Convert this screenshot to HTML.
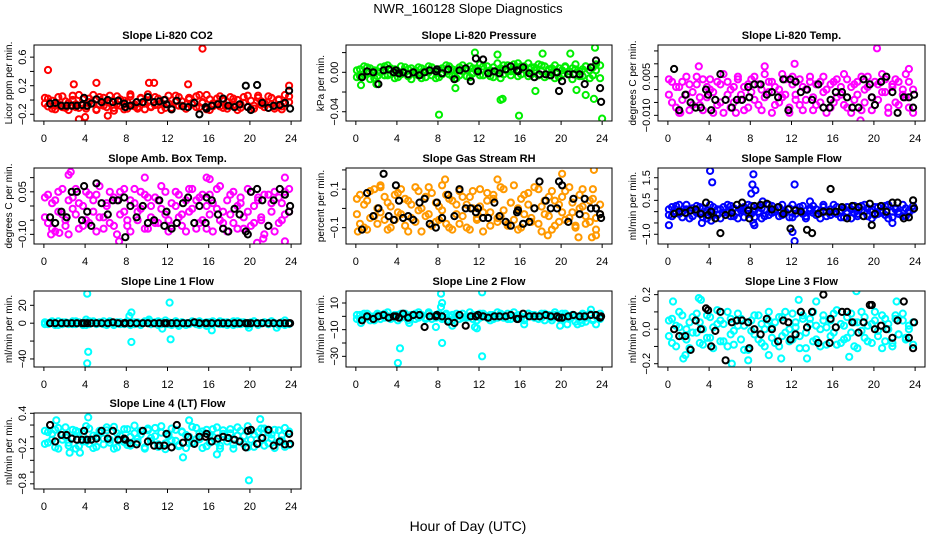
<!DOCTYPE html>
<html><head><meta charset="utf-8"><style>
html,body{margin:0;padding:0;background:#fff;}
svg{display:block;font-family:"Liberation Sans",Helvetica,Arial,sans-serif;}
</style></head><body>
<svg id="chart" width="936" height="540" viewBox="0 0 936 540" xmlns="http://www.w3.org/2000/svg">
<rect width="936" height="540" fill="#fff"/>
<text x="468" y="13" text-anchor="middle" font-size="13">NWR_160128  Slope Diagnostics</text>
<text x="468" y="531" text-anchor="middle" font-size="14">Hour of Day (UTC)</text>
<g id="panels"></g>
</svg>
<script>
// ---- shared hour samples ----
const hrs = [0.1,0.4,0.8,1.1,1.4,1.8,2.1,2.4,2.8,3.1,3.4,3.8,4.1,4.4,4.8,5.1,5.4,5.8,6.1,6.4,6.8,7.1,7.4,7.8,8.1,8.4,8.8,9.1,9.4,9.8,10.1,10.4,10.8,11.1,11.4,11.8,12.1,12.4,12.8,13.1,13.4,13.8,14.1,14.4,14.8,15.1,15.4,15.8,16.1,16.4,16.8,17.1,17.4,17.8,18.1,18.4,18.8,19.1,19.4,19.8,20.1,20.4,20.8,21.1,21.4,21.8,22.1,22.4,22.8,23.1,23.4,23.8];
const blackHrs = [0.6,1.1,1.7,2.2,2.7,3.2,3.7,3.9,4.2,4.6,5.1,5.6,6.2,6.7,7.2,7.8,7.9,8.4,9.0,9.6,10.1,10.7,11.2,11.7,11.9,12.4,12.9,13.5,14.0,14.6,15.1,15.7,15.8,16.3,16.9,17.4,17.9,18.5,19.0,19.6,19.8,20.1,20.7,21.2,21.8,22.3,22.9,23.4,23.8,23.9];
const xTicks = [0,4,8,12,16,20,24];

// ---- CO2 ----
const co2A = [-.05,.02,-.12,-.08,.04,-.1,-.02,-.14,.06,-.06,-.11,.01,-.09,-.03,.07,-.13,-.07,.03,-.1,-.04,-.15,.05,-.08,-.01,-.12,.08,-.06,-.1,.02,-.13,-.03,-.09,.04,-.07,-.14,.0,-.05,-.11,.06,-.08,-.02,-.12,.03,-.06,-.1,.07,-.04,-.13,.01,-.09,-.05,.05,-.11,-.03,-.08,.02,-.14,-.06,.04,-.1,-.01,-.12,.06,-.07,-.04,-.11,.03,-.09,.0,-.13,-.05,.05];
const co2B = [.03,-.09,-.01,-.13,-.06,.05,-.11,-.04,.0,-.1,.07,-.07,-.12,.02,-.05,-.14,.04,-.08,-.02,.06,-.11,-.06,.01,-.13,-.03,.05,-.09,-.12,.03,-.05,.08,-.1,-.07,.02,-.04,-.11,.06,-.13,-.02,.04,-.08,-.12,.01,-.06,.05,-.1,-.03,.07,-.14,-.05,.02,-.09,-.01,-.12,.04,-.07,.0,-.11,-.04,.06,-.13,-.08,.03,-.02,-.1,.05,-.06,-.12,.01,-.09,.07,-.03];
const co2Black = [-.05,-.04,-.08,-.08,-.08,-.08,-.07,.03,-.08,-.05,.01,-.03,.0,-.03,-.01,-.05,-.1,-.08,-.03,-.03,.04,-.03,-.02,.0,-.06,-.13,-.01,-.09,-.1,-.04,-.2,-.1,-.12,-.08,-.06,.02,-.08,-.1,-.06,.2,-.1,-.14,.21,-.04,-.11,-.08,-.07,-.04,.13,-.12];
const co2OutHrs = [0.4,15.4,3.4,2.9,14.0,10.2,10.7,5.1,4.0,23.8,6.2];
const co2OutVals = [.42,.72,-.27,.22,.22,.24,.24,.24,-.24,.2,-.22];

// ---- Pressure ----
const presA = [.002,-.004,.006,-.001,.004,-.006,.001,.005,-.003,.007,-.002,.003,-.005,.006,.0,-.004,.004,-.002,.005,-.006,.002,.006,-.003,.001,-.005,.004,.007,-.002,.003,-.006,.005,.001,-.004,.006,-.001,.004,.008,-.003,.006,.002,-.005,.009,.004,-.002,.007,.001,.008,-.004,.006,.003,.009,-.002,.005,.008,.001,.006,-.003,.004,.007,-.005,.002,.006,-.002,.004,.008,-.004,.003,.006,-.006,.005,.002,.007];
const presB = [-.005,.003,-.002,.005,-.007,.002,-.004,.0,.006,-.003,.004,-.006,.001,-.002,.005,.003,-.007,.002,-.003,.004,-.005,.0,.005,-.006,.003,-.002,.001,.006,-.004,.002,-.003,.007,.002,-.005,.004,.0,-.003,.006,.001,-.004,.005,.002,-.006,.007,.001,-.003,.003,.009,-.002,.006,-.004,.005,.002,-.003,.007,-.005,.003,.0,-.006,.004,-.002,.005,.001,-.007,.003,.001,-.004,.006,.002,-.003,.008,-.006];
const presBlack = [-.005,.001,.0,-.012,.002,.003,.0,.002,-.001,.0,-.002,.0,-.003,.0,.002,.001,.003,-.001,.003,-.007,.002,.004,-.009,.014,.001,.013,-.001,.001,-.001,.003,.006,.002,.001,.005,-.001,-.005,-.002,-.002,-.003,.0,-.019,-.009,-.002,-.002,-.002,-.012,.005,.012,-.016,-.03];
const presOutHrs = [8.1,15.9,24.0,11.6,13.8,18.2,20.9,23.3,14.1,14.3,23.2,17.5,22.4,0.5,2.0,9.7,21.5];
const presOutVals = [-.043,-.044,-.047,.02,.018,.019,.019,.025,-.028,-.027,-.027,-.019,-.023,-.013,-.012,-.016,-.018];

// ---- Li-820 Temp ----
const tempA = [-.002,.003,-.007,.001,-.004,.005,-.008,-.001,.002,-.006,.004,-.003,.0,-.009,.003,-.005,.006,-.002,-.007,.001,.004,-.004,-.008,.002,-.001,.005,-.006,.0,-.003,.003,-.009,.001,-.005,.006,-.002,-.007,.002,-.004,.004,-.008,.0,.005,-.003,-.006,.003,-.001,-.009,.002,-.005,.004,-.002,.006,-.007,.001,-.004,.003,-.008,.0,.005,-.003,-.006,.002,-.001,.004,-.009,.001,-.005,.003,-.002,.006,-.007,.0];
const tempB = [.004,-.005,.001,-.009,.003,-.002,.002,-.006,.005,-.003,-.008,.001,.004,-.001,-.006,.002,-.009,.003,.0,-.005,.005,-.002,.001,-.007,.004,-.004,.002,-.008,.006,-.001,.003,-.006,.0,-.003,.004,-.009,.005,-.002,-.006,.001,-.004,.003,-.008,.002,-.005,.005,.0,-.007,.003,-.003,.001,-.006,.004,-.009,.002,-.002,.005,-.005,.001,-.008,.003,-.004,.006,-.001,-.007,.002,.004,-.006,.0,-.003,.003,-.009];
const tempBlack = [.008,-.008,-.002,-.005,-.007,-.007,.0,-.002,-.008,-.004,.006,-.004,-.007,-.004,-.004,.001,-.003,.002,.002,-.002,-.001,-.003,.004,-.008,.004,.003,-.001,.0,-.004,.002,-.007,-.007,-.004,-.001,-.001,-.003,-.007,-.007,.004,.002,-.003,-.006,.003,.005,-.001,-.009,-.003,-.003,-.007,-.002];
const tempOutHrs = [20.3,18.7,12.3,3.0,9.4,6.6,1.2,23.4];
const tempOutVals = [.016,-.012,.01,.009,.009,-.009,-.009,.008];

// ---- Amb Box Temp ----
const boxA = [.03,-.06,.01,-.09,.05,-.03,-.07,.02,-.01,.06,-.08,.0,-.05,.04,-.02,-.09,.07,-.04,.01,-.06,.03,-.1,.05,-.02,-.07,.02,.06,-.05,-.01,.04,-.08,.0,.03,-.06,.07,-.03,-.09,.01,.05,-.04,-.07,.02,-.02,.06,-.08,.03,-.05,.0,.04,-.09,-.01,.07,-.06,.02,-.03,.05,-.08,.01,-.04,.06,-.07,.0,.03,-.05,-.1,.04,-.02,.05,-.06,.01,-.03,.06];
const boxB = [-.04,.04,-.08,.02,-.02,.06,-.05,-.1,.03,-.03,.01,-.07,.05,-.06,.02,.04,-.04,-.08,.0,.05,-.07,.02,-.03,.06,-.05,-.09,.01,-.02,.05,-.08,.03,-.04,-.06,.02,-.01,.05,-.05,-.07,.0,.04,-.03,-.09,.06,-.01,.02,-.06,.04,-.08,-.03,.01,.06,-.05,-.02,-.09,.04,-.06,.0,.03,-.08,-.02,.05,-.06,.02,-.04,.04,-.07,.01,-.09,.03,-.05,.05,-.02];
const boxBlack = [-.04,-.06,-.02,-.04,.05,.05,-.05,.07,-.02,-.07,.08,.01,-.03,.02,.02,.03,-.11,.0,-.04,.0,-.06,-.05,.02,-.07,-.02,-.08,-.06,.01,.03,-.06,.0,-.06,.03,.02,-.03,-.08,-.09,-.01,-.03,-.09,-.1,.05,.06,.02,-.07,.02,.06,.04,-.02,.0];
const boxOutHrs = [2.6,2.4,7.3,20.7,23.4,21.3,15.8,23.4,0.7,1.5,9.8,16.1];
const boxOutVals = [.12,.11,-.125,-.13,-.125,-.115,.1,.1,-.1,-.095,.1,.095];

// ---- Gas Stream RH ----
const rhA = [.05,-.08,.02,-.11,.09,-.04,.0,.12,-.06,.03,-.1,.07,-.02,.1,-.09,.04,-.05,.11,-.01,-.12,.06,-.03,.08,-.07,.01,.12,-.08,.05,-.11,.02,.09,-.04,-.1,.06,.0,-.06,.1,-.02,.04,-.09,.07,-.05,.11,-.01,-.08,.03,.12,-.11,.05,-.03,.08,-.07,.0,.1,-.12,.04,-.04,.09,-.09,.02,.06,-.06,.11,-.02,-.1,.07,.01,-.08,.04,.1,-.05,-.03];
const rhB = [-.03,.07,-.1,.04,-.05,.1,-.08,-.02,.06,-.11,.01,-.06,.08,-.03,.05,-.12,.02,-.07,.09,.0,-.04,.11,-.09,.03,-.06,-.01,.07,-.1,.04,-.03,-.08,.06,.02,-.11,.09,-.05,.01,-.12,.08,-.02,.05,-.07,-.04,.1,-.09,.03,-.06,.0,-.1,.07,.02,-.05,.11,-.08,.01,-.03,.06,-.11,.04,-.07,-.02,.09,-.05,.03,-.09,.0,.1,-.04,-.07,.05,-.11,.02];
const rhBlack = [-.11,.08,-.04,.0,.18,-.04,-.06,.12,.04,-.05,-.04,-.06,.03,.05,-.08,-.1,.03,-.05,.07,-.04,.1,.0,.0,-.02,.0,-.05,-.05,.03,-.04,-.07,-.09,-.02,-.01,-.08,-.07,.0,.14,.04,.0,.0,.14,.12,-.07,.05,-.03,.05,.0,.0,-.03,-.05];
const rhOutHrs = [23.2,20.1,23.4,21.7,23.0,0.2,8.7,13.8,2.4,18.7];
const rhOutVals = [.2,.18,-.14,-.15,-.15,-.12,.15,.15,.11,-.14];

// ---- Sample Flow ----
const flowA = [.1,-.2,.25,-.1,.0,.3,-.3,.15,-.05,.2,-.25,.05,.3,-.15,.1,-.3,.2,-.05,.25,-.2,.0,.15,-.25,.3,-.1,.05,.2,-.3,.1,-.15,.25,.0,-.2,.3,-.05,.15,-.25,.1,.2,-.1,-.3,.05,.25,-.15,.0,.3,-.2,.1,-.05,.2,-.25,.15,.0,-.3,.25,-.1,.05,.3,-.2,.1,-.15,.2,-.05,.25,-.3,.0,.15,-.1,.3,-.2,.05,.1];
const flowB = [-.15,.2,-.05,.3,-.25,.1,.05,-.2,.25,-.1,.15,-.3,.0,.2,-.15,.1,-.05,.3,-.2,.15,-.3,.05,.2,-.1,.25,-.25,.0,.15,-.2,.3,-.05,.1,.2,-.15,.0,-.25,.3,-.1,.05,.25,-.2,.15,-.05,.1,-.3,.2,.0,-.15,.3,-.1,.05,-.25,.2,.1,-.05,-.2,.25,.0,.15,-.3,.2,-.1,.05,-.15,.3,-.25,.1,.0,-.2,.15,-.05,.25];
const flowBlack = [-.1,.0,-.05,.05,.1,-.1,.4,-.15,.0,-.3,-.95,-.15,-.05,.3,.4,.05,-.3,.25,.3,.35,.1,.2,-.1,.1,-.75,.05,.0,-.8,-.95,-.1,.0,.0,1.0,.0,.2,-.3,.25,.2,-.2,.35,-.6,-.1,.25,.0,.4,.4,-.3,-.25,.5,.15];
const flowOutHrs = [4.1,4.3,8.3,8.2,8.1,8.5,12.3,12.3,12.1,8.4,8.3,0.1,3.3,21.8,4.2,9.2,13.8];
const flowOutVals = [1.8,1.3,1.65,1.2,.8,.95,1.2,-1.3,-.9,-.6,-.5,-.6,-.5,-.5,-.4,.45,.45];

// ---- Line 1 Flow ----
const l1A = [1,-1,2,0,-2,1,0,-1,2,-1,1,0,-2,2,1,-1,0,2,-1,1,-2,0,1,-1,2,0,-1,1,-2,2,0,-1,1,2,-1,0,1,-2,2,-3,1,0,-1,2,1,-2,0,1,-1,2,0,-1,1,-2,0,2,-1,1,0,-2,1,2,-1,0,1,-1,2,0,-2,1,3,-1];
const l1B = [-1,0,1,-2,2,-1,1,0,-1,2,0,-2,1,-1,2,0,1,-1,-2,2,0,1,-1,0,2,-2,1,0,-1,1,2,-1,0,-2,1,3,-1,0,2,-1,1,-2,0,1,-1,2,0,-3,1,-1,0,2,-1,1,0,-2,2,-1,1,0,-1,2,-2,0,1,-1,2,0,-1,1,-2,0];
const l1Black = [0,0,0,0,0,0,0,0,0,0,0,0,0,1,0,0,0,0,0,0,0,0,0,0,0,0,0,0,0,1,0,0,0,0,0,0,0,0,0,0,0,0,0,0,0,0,0,0,0,0];
const l1OutHrs = [4.2,4.3,4.2,8.5,8.3,8.5,12.2,12.3,16.3,19.9,11.5,10.2,4.1,22.6];
const l1OutVals = [33,-32,-45,-21,8,12,23,-18,-8,-5,-6,4,4,-5];

// ---- Line 2 Flow ----
const l2A = [1,-2,2,-1,0,-3,2,1,-1,3,-2,0,1,-1,2,-3,0,2,-1,1,-2,3,0,-1,2,-2,1,0,-3,2,1,-1,0,3,-2,1,-1,2,0,-3,1,-1,2,0,-2,1,3,-1,0,-2,2,1,-1,0,2,-3,1,-1,3,0,-2,2,-1,1,0,-3,2,-1,1,-2,0,2];
const l2B = [-2,1,-1,2,-3,0,1,-2,2,0,-1,1,-3,2,0,-1,1,-2,3,0,-1,2,-2,1,0,-1,2,-3,1,0,-2,2,-1,0,1,-3,2,0,-1,1,-2,3,0,-1,2,-2,0,1,-1,-3,2,0,1,-2,-1,2,0,-3,1,-1,2,0,-2,1,-4,0,1,-4,2,-3,1,-2];
const l2Black = [-3,0,-2,0,1,-1,0,0,-1,2,-1,1,1,-8,0,0,1,0,-4,-5,1,-7,0,0,1,0,-1,0,0,0,1,-2,-2,2,0,0,0,1,0,0,-1,-1,0,1,0,0,1,1,-1,0];
const l2OutHrs = [8.3,8.4,8.3,12.3,4.3,4.1,8.4,12.3,7.8,11.8,11.6,9.4,5.2,16.4,19.9,20.6,21.6,22.0,23.4,22.9,0.5];
const l2OutVals = [17,10,7,18,-24,-35,-20,-30,-8,-9,-8,-7,-5,-6,-7,-6,-6,-5,-6,5,-5];

// ---- Line 3 Flow ----
const l3A = [.05,-.08,.02,.1,-.04,.0,-.11,.07,-.02,.04,-.09,.08,-.05,.01,.11,-.07,.03,-.1,.06,-.01,.09,-.06,.02,-.12,.05,-.03,.08,-.08,.0,.1,-.05,.04,-.1,.07,-.02,-.07,.09,.01,-.04,.06,-.11,.03,.1,-.06,.0,.08,-.09,.05,-.02,.11,-.08,.02,-.05,.09,-.1,.04,-.01,.07,-.07,.03,.1,-.04,-.11,.06,.0,-.08,.08,-.03,.05,-.06,.02,-.09];
const l3B = [-.04,.06,-.1,.01,.08,-.06,.04,-.02,.09,-.08,.0,-.05,.07,-.11,.03,.05,-.07,.1,-.03,-.09,.02,.06,-.12,.04,-.01,.08,-.06,.03,-.1,.05,.01,-.08,.07,-.04,.1,.0,-.06,.04,-.11,.08,-.02,.06,-.07,.02,-.1,.05,.01,-.04,.09,-.09,.03,-.06,.07,-.02,.04,-.11,.1,-.05,.02,-.08,.05,-.01,.08,-.07,.03,-.1,.06,-.03,.09,-.05,.0,.04];
const l3Black = [.0,-.04,-.04,-.12,.05,.0,.12,.11,-.1,-.01,.1,-.18,.04,.05,.05,.04,-.11,.0,-.03,.06,.0,-.07,.05,.04,-.06,-.03,.1,.01,.1,-.08,.2,-.08,.06,.01,.1,.1,.04,-.02,.04,.14,.14,.0,.02,.0,-.05,.05,.16,-.05,-.11,.04];
const l3OutHrs = [0.5,3.0,3.2,18.3,1.5,6.2,7.8,9.8,13.5,17.6,11.0,1.7,12.7,14.4,22.2];
const l3OutVals = [.16,.18,.17,.22,-.17,-.2,-.18,-.15,-.17,-.16,-.17,-.15,.17,.16,.16];

// ---- Line 4 (LT) Flow ----
const l4A = [.1,-.1,.05,-.18,.15,-.05,.0,-.15,.12,-.2,.08,-.08,.18,-.12,.02,-.17,.1,-.03,.16,-.1,-.2,.06,-.06,.13,-.14,.0,.19,-.09,.04,-.18,.11,-.02,.15,-.13,.07,-.21,.01,.14,-.07,-.16,.09,.03,-.11,.17,-.04,.06,-.19,.12,-.1,.0,.16,-.15,.05,-.08,.13,-.2,.02,.1,-.12,.18,-.05,-.17,.08,-.01,.14,-.11,.04,-.19,.11,-.06,.15,-.14];
const l4B = [-.12,.08,-.05,.12,-.2,.03,.16,-.1,-.02,.1,-.16,.05,-.08,.14,-.19,.0,.07,-.13,.11,-.05,.17,-.18,.02,-.09,.13,-.15,.06,-.03,.1,-.2,.14,-.07,.01,-.17,.18,-.11,.04,-.06,.12,-.14,.08,-.19,.0,-.1,.15,-.04,.09,-.16,.03,.13,-.08,-.2,.11,-.02,.06,-.13,.16,-.07,.01,-.18,.1,.04,-.12,.14,-.15,.07,-.03,.12,-.09,.02,-.17,.09];
const l4Black = [.2,-.08,.03,.03,-.03,-.05,-.05,.1,-.05,-.05,-.03,.1,-.03,.1,-.05,-.03,-.05,-.11,-.13,.1,-.08,-.15,-.15,-.15,.05,-.18,.2,-.1,.0,-.12,.0,.0,.05,-.08,-.03,.0,-.02,-.05,-.08,-.18,.1,.12,-.12,-.02,.12,-.15,-.08,-.13,.05,-.12];
const l4OutHrs = [4.0,12.0,19.9,4.3,21.0,13.5,16.8,1.2,2.5,3.5,14.1];
const l4OutVals = [-.96,-.96,-.74,.33,.3,-.35,-.3,.28,-.27,-.27,.28];

// ---- tick label arrays ----
const co2Ticks=[-0.2,0,0.2,0.4,0.6], co2Labels=["-0.2","","0.2","","0.6"];
const presTicks=[-0.04,-0.02,0,0.02], presLabels=["-0.04","","0.00",""];
const tempTicks=[-0.010,-0.005,0,0.005,0.010,0.015], tempLabels=["-0.010","","","0.005","",""];
const boxTicks=[-0.10,-0.05,0,0.05,0.10], boxLabels=["-0.10","","","0.05",""];
const rhTicks=[-0.1,0,0.1,0.2], rhLabels=["-0.1","","0.1",""];
const flowTicks=[-1.0,-0.5,0,0.5,1.0,1.5], flowLabels=["-1.0","","","0.5","","1.5"];
const l1Ticks=[-40,-20,0,20], l1Labels=["-40","","0","20"];
const l2Ticks=[-30,-20,-10,0,10], l2Labels=["-30","","-10","","10"];
const l3Ticks=[-0.2,-0.1,0,0.1,0.2], l3Labels=["-0.2","","0.0","","0.2"];
const l4Ticks=[-0.8,-0.6,-0.4,-0.2,0,0.2,0.4], l4Labels=["-0.8","","","-0.2","","","0.4"];

const COLS=[[34,301],[346,612],[658,925]];
const ROWS=[[45,121],[168,244],[291,367],[413,489]];
const XMIN=-0.96, XMAX=24.96;

const panels=[
 {name:"co2",title:"Slope Li-820 CO2",yt:"Licor ppm per min.",c:0,r:0,dom:[-0.294,0.77],col:"#ff0000",A:co2A,B:co2B,K:co2Black,oh:co2OutHrs,ov:co2OutVals,ticks:co2Ticks,labels:co2Labels},
 {name:"pressure",title:"Slope Li-820 Pressure",yt:"kPa per min.",c:1,r:0,dom:[-0.0494,0.0277],col:"#00ee00",A:presA,B:presB,K:presBlack,oh:presOutHrs,ov:presOutVals,ticks:presTicks,labels:presLabels},
 {name:"li820-temp",title:"Slope Li-820 Temp.",yt:"degrees C per min.",c:2,r:0,dom:[-0.0122,0.0173],col:"#ff00ff",A:tempA,B:tempB,K:tempBlack,oh:tempOutHrs,ov:tempOutVals,ticks:tempTicks,labels:tempLabels},
 {name:"amb-box-temp",title:"Slope Amb. Box Temp.",yt:"degrees C per min.",c:0,r:1,dom:[-0.134,0.134],col:"#ff00ff",A:boxA,B:boxB,K:boxBlack,oh:boxOutHrs,ov:boxOutVals,ticks:boxTicks,labels:boxLabels},
 {name:"gas-stream-rh",title:"Slope Gas Stream RH",yt:"percent per min.",c:1,r:1,dom:[-0.185,0.21],col:"#ff9900",A:rhA,B:rhB,K:rhBlack,oh:rhOutHrs,ov:rhOutVals,ticks:rhTicks,labels:rhLabels},
 {name:"sample-flow",title:"Slope Sample Flow",yt:"ml/min per min.",c:2,r:1,dom:[-1.43,1.93],col:"#0000ff",A:flowA,B:flowB,K:flowBlack,oh:flowOutHrs,ov:flowOutVals,ticks:flowTicks,labels:flowLabels},
 {name:"line1-flow",title:"Slope Line 1 Flow",yt:"ml/min per min.",c:0,r:2,dom:[-49,36],col:"#00ffff",A:l1A,B:l1B,K:l1Black,oh:l1OutHrs,ov:l1OutVals,ticks:l1Ticks,labels:l1Labels},
 {name:"line2-flow",title:"Slope Line 2 Flow",yt:"ml/min per min.",c:1,r:2,dom:[-38,19],col:"#00ffff",A:l2A,B:l2B,K:l2Black,oh:l2OutHrs,ov:l2OutVals,ticks:l2Ticks,labels:l2Labels},
 {name:"line3-flow",title:"Slope Line 3 Flow",yt:"ml/min per min.",c:2,r:2,dom:[-0.219,0.221],col:"#00ffff",A:l3A,B:l3B,K:l3Black,oh:l3OutHrs,ov:l3OutVals,ticks:l3Ticks,labels:l3Labels},
 {name:"line4-flow",title:"Slope Line 4 (LT) Flow",yt:"ml/min per min.",c:0,r:3,dom:[-0.888,0.405],col:"#00ffff",A:l4A,B:l4B,K:l4Black,oh:l4OutHrs,ov:l4OutVals,ticks:l4Ticks,labels:l4Labels}
];

const NS="http://www.w3.org/2000/svg";
const root=document.getElementById('panels');
function mk(tag,attrs,parent){const e=document.createElementNS(NS,tag);for(const k in attrs)e.setAttribute(k,attrs[k]);parent.appendChild(e);return e;}

panels.forEach(p=>{
  const [L,R]=COLS[p.c],[T,B]=ROWS[p.r];
  const xs=h=>L+(h-XMIN)/(XMAX-XMIN)*(R-L);
  const ys=v=>B-(v-p.dom[0])/(p.dom[1]-p.dom[0])*(B-T);
  const g=mk('g',{},root);
  
  
  const clip=mk('clipPath',{id:'clip-'+p.name},g);
  mk('rect',{x:L,y:T,width:R-L,height:B-T},clip);
  const pts=mk('g',{'clip-path':'url(#clip-'+p.name+')',fill:'none','stroke-width':2},g);
  
  
  const drawPt=(h,v,color,nm)=>{
    const c=mk('circle',{cx:xs(h).toFixed(1),cy:ys(v).toFixed(1),r:3.1,stroke:color},pts);
    
    
  };
  const n1=Math.min(hrs.length,p.A.length);
  for(let i=0;i<n1;i++) drawPt(hrs[i],p.A[i],p.col,p.name+'-point');
  const n2=Math.min(hrs.length,p.B.length);
  for(let i=0;i<n2;i++) drawPt(hrs[i],p.B[i],p.col,p.name+'-point');
  const n3=Math.min(p.oh.length,p.ov.length);
  for(let i=0;i<n3;i++) drawPt(p.oh[i],p.ov[i],p.col,p.name+'-outlier');
  const n4=Math.min(blackHrs.length,p.K.length);
  for(let i=0;i<n4;i++) drawPt(blackHrs[i],p.K[i],'#000',p.name+'-reference-point');
  const box=mk('rect',{x:L,y:T,width:R-L,height:B-T,fill:'none',stroke:'#000','stroke-width':1},g);
  
  
  const t=mk('text',{x:(L+R)/2,y:T-6,'text-anchor':'middle','font-size':11,'font-weight':'bold'},g);
  t.textContent=p.title;
  
  
  const xa=mk('g',{},g);
  
  
  xTicks.forEach(h=>{
    mk('line',{x1:xs(h),x2:xs(h),y1:B,y2:B+4,stroke:'#000'},xa);
    const tl=mk('text',{x:xs(h),y:B+21,'text-anchor':'middle','font-size':11},xa);
    tl.textContent=h;
    
    
  });
  const ya=mk('g',{},g);
  
  
  p.ticks.forEach((v,i)=>{
    const y=ys(v);
    mk('line',{x1:L-4,x2:L,y1:y,y2:y,stroke:'#000'},ya);
    if(p.labels[i]){
      const tl=mk('text',{x:L-8,y:y,'text-anchor':'middle','font-size':11,transform:`rotate(-90 ${L-8} ${y})`},ya);
      tl.textContent=p.labels[i].replace('-','\u2212');
      
      
    }
  });
  const yt=mk('text',{x:L-22,y:(T+B)/2,'text-anchor':'middle','font-size':10,transform:`rotate(-90 ${L-22} ${(T+B)/2})`},g);
  yt.textContent=p.yt;
  
  
});
</script>
</body></html>
